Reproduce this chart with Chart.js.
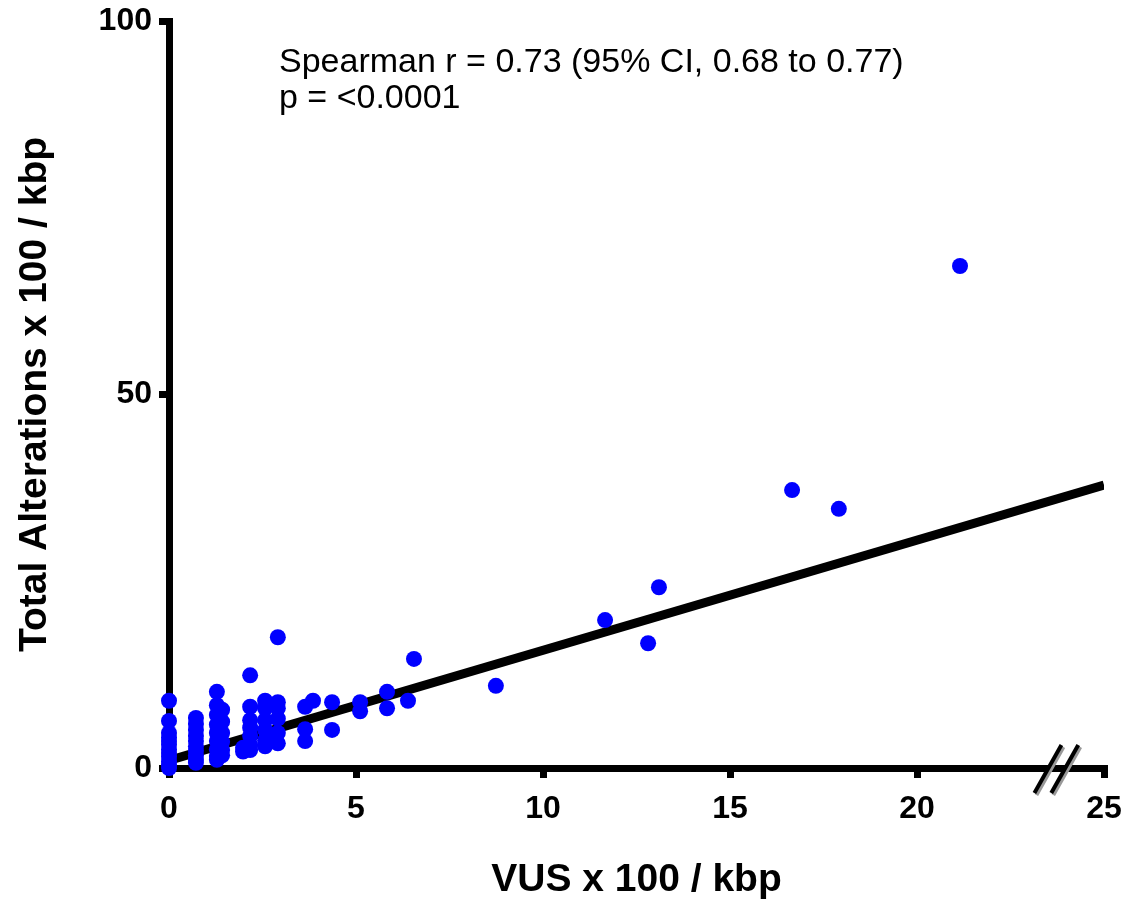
<!DOCTYPE html>
<html>
<head>
<meta charset="utf-8">
<script src="https://cdn.jsdelivr.net/npm/chart.js@4.4.1/dist/chart.umd.min.js"></script>
<style>
  body { margin: 0; background: #fff; }
  canvas { display: block; }
</style>
</head>
<body>
<canvas id="scatter" width="1126" height="906"></canvas>
<script>
// VUS x 100 / kbp (x) and Total Alterations x 100 / kbp (y), one pair per sample
var vus = [
  0, 0, 0, 0, 0, 0, 0, 0, 0, 0, 0, 0,
  0.72, 0.72, 0.72, 0.72, 0.72, 0.72, 0.72, 0.72, 0.72, 0.72,
  1.28, 1.28, 1.28, 1.28, 1.28, 1.28, 1.28, 1.28, 1.28,
  1.42, 1.42, 1.42, 1.42, 1.42, 1.42,
  1.98, 1.98,
  2.17, 2.17, 2.17, 2.17, 2.17, 2.17, 2.17,
  2.57, 2.57, 2.57, 2.57, 2.57, 2.57,
  2.91, 2.91, 2.91, 2.91, 2.91, 2.91,
  3.64, 3.64, 3.64, 3.85,
  4.36, 4.36, 5.11, 5.11, 5.83, 5.83, 6.39, 6.55,
  8.74, 11.66, 12.81, 13.1, 16.66, 17.91, 21.15
];
var total = [
  9.0, 6.3, 4.7, 4.1, 3.6, 3.1, 2.5, 2.0, 1.5, 0.9, 0.4, 0,
  6.7, 5.9, 5.1, 4.3, 3.6, 2.9, 2.3, 1.7, 1.2, 0.7,
  10.2, 8.4, 7.1, 5.8, 4.7, 3.6, 2.5, 1.6, 1.1,
  7.8, 6.2, 4.7, 3.5, 2.4, 1.7,
  2.7, 2.2,
  12.4, 8.2, 6.4, 5.4, 4.3, 3.1, 2.4,
  9.0, 8.0, 6.4, 5.1, 3.7, 2.9,
  17.5, 8.8, 8.0, 6.6, 4.7, 3.3,
  8.2, 5.2, 3.6, 9.0,
  8.8, 5.1, 8.8, 7.6, 10.2, 8.0, 9.0, 14.6,
  11.0, 19.8, 16.7, 24.2, 37.2, 34.7, 67.2
];

// fitted line
var fitSlope = 1.475;
var fitIntercept = 1.0;
var fitX = [0, 25];

var xTicks = [0, 5, 10, 15, 20, 25];
var yTicks = [0, 50, 100];

var statLines = ['Spearman r = 0.73 (95% CI, 0.68 to 0.77)', 'p = <0.0001'];

var fontFam = '"Liberation Sans", Arial, Helvetica, sans-serif';

var points = vus.map(function (v, i) { return { x: v, y: total[i] }; });
var fitPoints = fitX.map(function (v) { return { x: v, y: fitSlope * v + fitIntercept }; });

// text block + axis break marks
var extras = {
  id: 'extras',
  afterDraw: function (chart) {
    var ctx = chart.ctx;
    var xs = chart.scales.x;
    var area = chart.chartArea;
    ctx.save();
    ctx.fillStyle = '#000';
    ctx.font = '34px ' + fontFam;
    ctx.textBaseline = 'alphabetic';
    ctx.textAlign = 'left';
    ctx.fillText(statLines[0], area.left + 110, 72);
    ctx.fillText(statLines[1], area.left + 110, 108);

    // the "//" break on the x axis
    var yb = area.bottom;
    [23.5, 23.95].forEach(function (v) {
      var px = xs.getPixelForValue(v);
      ctx.lineCap = 'butt';
      ctx.lineWidth = 4;
      ctx.strokeStyle = '#999';
      ctx.beginPath();
      ctx.moveTo(px - 13.5 + 2, yb + 25 + 2);
      ctx.lineTo(px + 13.5 + 2, yb - 23 + 2);
      ctx.stroke();
      ctx.strokeStyle = '#000';
      ctx.beginPath();
      ctx.moveTo(px - 13.5, yb + 25);
      ctx.lineTo(px + 13.5, yb - 23);
      ctx.stroke();
    });
    ctx.restore();
  }
};

var tickFont = { family: fontFam, size: 32, weight: 'bold' };
var titleFont = { family: fontFam, size: 39, weight: 'bold' };

var ctx = document.getElementById('scatter').getContext('2d');
var chart = new Chart(ctx, {
  type: 'scatter',
  data: {
    datasets: [{
      type: 'scatter',
      data: points,
      backgroundColor: '#0000ff',
      borderWidth: 0,
      pointRadius: 8,
      pointHoverRadius: 8,
      clip: false,
      order: 1
    }, {
      type: 'line',
      data: fitPoints,
      borderColor: '#000',
      borderWidth: 9,
      pointRadius: 0,
      fill: false,
      order: 2
    }]
  },
  options: {
    responsive: false,
    animation: false,
    layout: { padding: { top: 21, right: 22, left: 0, bottom: 0 } },
    plugins: { legend: { display: false }, tooltip: { enabled: false } },
    scales: {
      x: {
        type: 'linear',
        min: 0,
        max: 25,
        afterBuildTicks: function (s) { s.ticks = xTicks.map(function (v) { return { value: v }; }); },
        afterFit: function (s) { s.height = 138; s.paddingLeft = 0; s.paddingRight = 0; },
        ticks: { color: '#000', font: tickFont, padding: 12, maxRotation: 0 },
        grid: { drawOnChartArea: false, color: '#000', lineWidth: 7, tickLength: 10 },
        border: { color: '#000', width: 7 },
        title: { display: true, text: 'VUS x 100 / kbp', color: '#000', font: titleFont, padding: { top: 0, bottom: 2 } }
      },
      y: {
        type: 'linear',
        min: 0,
        max: 100,
        afterBuildTicks: function (s) { s.ticks = yTicks.map(function (v) { return { value: v }; }); },
        afterFit: function (s) { s.width = 169; s.paddingTop = 0; s.paddingBottom = 0; },
        ticks: { color: '#000', font: tickFont, padding: 7 },
        grid: { drawOnChartArea: false, color: '#000', lineWidth: 7, tickLength: 10 },
        border: { color: '#000', width: 7 },
        title: { display: true, text: 'Total Alterations x 100 / kbp', color: '#000', font: titleFont, padding: { top: 12, bottom: 0 } }
      }
    }
  },
  plugins: [extras]
});
</script>
</body>
</html>
